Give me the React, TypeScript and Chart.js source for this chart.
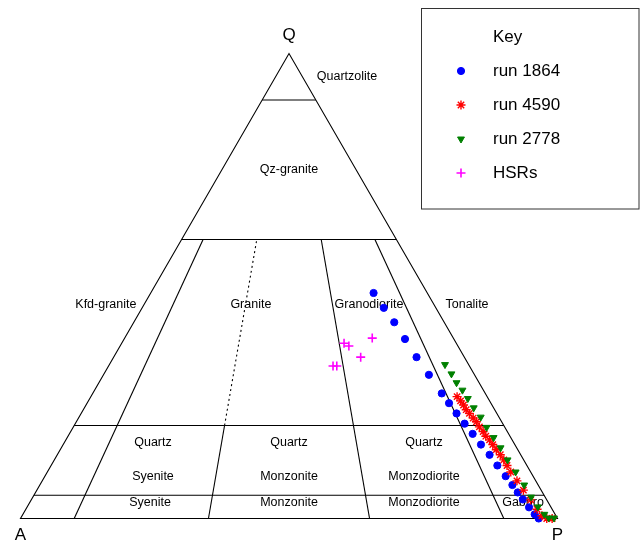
import React, { useEffect, useRef } from 'react';
import { Chart, registerables } from 'chart.js';
import { drawPoint } from 'chart.js/helpers';

Chart.register(...registerables);

// Height of the unit equilateral triangle (A at x=0, P at x=1, Q at the apex)
const H = Math.sqrt(3) / 2;

// Modal compositions in percent: Q (quartz) and P (plagioclase); A = 100 - Q - P
const run1864Q = [48.5, 45.3, 42.2, 38.6, 34.7, 30.9, 26.9, 24.8, 22.6, 20.4, 18.2, 15.9, 13.7, 11.4, 9.1, 7.2, 5.6, 4.1, 2.4, 0.9, 0];
const run1864P = [41.5, 45.0, 48.5, 52.3, 56.4, 60.6, 65.0, 67.4, 69.9, 72.5, 75.1, 77.8, 80.5, 83.1, 85.8, 88.0, 89.8, 91.5, 93.5, 95.3, 96.5];

const run4590Q = [26.2, 25.3, 24.4, 23.4, 22.6, 21.6, 20.8, 19.7, 18.7, 17.7, 16.9, 15.9, 14.8, 13.7, 12.6, 11.4, 10.0, 8.1, 6.1, 4.0, 2.0, 0.6, 0, 0];
const run4590P = [68.2, 69.3, 70.3, 71.3, 72.3, 73.5, 74.5, 75.6, 76.8, 77.8, 78.9, 80.0, 81.2, 82.5, 83.7, 84.9, 86.3, 88.4, 90.6, 93.0, 95.2, 96.8, 98.0, 99.0];

const run2778Q = [33.1, 31.1, 29.2, 27.6, 25.8, 23.8, 21.8, 19.6, 17.4, 15.2, 12.6, 10.0, 7.2, 4.6, 2.5, 0.9, 0.1, 0.1];
const run2778P = [62.5, 64.7, 66.6, 68.5, 70.4, 72.5, 74.8, 77.0, 79.4, 81.8, 84.4, 87.2, 90.2, 92.8, 95.1, 97.1, 98.3, 99.3];

const hsrQ = [32.8, 32.8, 37.7, 37.1, 34.7, 38.8];
const hsrP = [41.8, 42.5, 41.4, 42.6, 46.0, 46.1];

// Field boundaries (Streckeisen QAP)
const quartzLevels = [90, 60, 20, 5];
const plagRatios = [10, 35, 65, 90]; // P/(A+P) in percent, drawn from Q=60 down to Q=0
const dashedRatio = 35; // syeno/monzogranite divide, dotted between Q=20 and Q=60

// Field names, positioned in diagram units (x along A-P, y up towards Q)
const fieldText = ['Quartzolite', 'Qz-granite', 'Kfd-granite', 'Granite', 'Granodiorite', 'Tonalite',
  'Quartz', 'Quartz', 'Quartz', 'Syenite', 'Monzonite', 'Monzodiorite',
  'Syenite', 'Monzonite', 'Monzodiorite', 'Gabbro'];
const fieldX = [0.608, 0.5, 0.159, 0.429, 0.649, 0.8315,
  0.2467, 0.5, 0.7514, 0.2467, 0.5, 0.7514,
  0.2412, 0.5, 0.7514, 0.9358];
const fieldY = [0.824, 0.649, 0.3994, 0.3994, 0.3994, 0.3994,
  0.1406, 0.1406, 0.1406, 0.0773, 0.0773, 0.0773,
  0.0289, 0.0289, 0.0289, 0.0289];

const seriesNames = ['run 1864', 'run 4590', 'run 2778', 'HSRs'];

const FONT = '"Liberation Sans", Arial, Helvetica, sans-serif';

const toXY = (q: number, p: number) => ({ x: (p + q / 2) / 100, y: (q / 100) * H });
const toPoints = (qs: number[], ps: number[]) => qs.map((q, i) => toXY(q, ps[i]));

const diagramPlugin = {
  id: 'qapDiagram',
  beforeDatasetsDraw(chart: any) {
    const { ctx } = chart;
    const xs = chart.scales.x;
    const ys = chart.scales.y;
    const px = (pt: { x: number; y: number }) => [xs.getPixelForValue(pt.x), ys.getPixelForValue(pt.y)];
    const seg = (a: { x: number; y: number }, b: { x: number; y: number }, dash: number[] = []) => {
      const [x1, y1] = px(a);
      const [x2, y2] = px(b);
      ctx.save();
      ctx.setLineDash(dash);
      ctx.beginPath();
      ctx.moveTo(x1, y1);
      ctx.lineTo(x2, y2);
      ctx.stroke();
      ctx.restore();
    };
    ctx.save();
    ctx.strokeStyle = '#000';
    ctx.lineWidth = 1.1;
    // outer triangle
    const A = toXY(0, 0), P = toXY(0, 100), Q = toXY(100, 0);
    ctx.beginPath();
    const [ax, ay] = px(A), [pxx, pyy] = px(P), [qx, qy] = px(Q);
    ctx.moveTo(ax, ay);
    ctx.lineTo(pxx, pyy);
    ctx.lineTo(qx, qy);
    ctx.closePath();
    ctx.stroke();
    // constant-quartz lines
    quartzLevels.forEach((q) => seg(toXY(q, 0), toXY(q, 100 - q)));
    // constant P/(A+P) lines
    plagRatios.forEach((r) => {
      const at = (q: number) => toXY(q, ((100 - q) * r) / 100);
      if (r === dashedRatio) {
        seg(at(0), at(20));
        seg(at(20), at(60), [2, 3]);
      } else {
        seg(at(0), at(60));
      }
    });
    // field names
    ctx.fillStyle = '#000';
    ctx.font = `12.5px ${FONT}`;
    ctx.textAlign = 'center';
    ctx.textBaseline = 'middle';
    fieldText.forEach((t, i) => {
      ctx.fillText(t, xs.getPixelForValue(fieldX[i]), ys.getPixelForValue(fieldY[i]));
    });
    // apex names
    ctx.font = `17px ${FONT}`;
    ctx.fillText('Q', qx, qy - 18.5);
    ctx.fillText('A', ax, ay + 16.5);
    ctx.fillText('P', pxx, pyy + 16.5);
    ctx.restore();
  },
  afterDatasetsDraw(chart: any) {
    const { ctx } = chart;
    ctx.save();
    // key box
    ctx.fillStyle = '#fff';
    ctx.fillRect(421.5, 8.5, 217.5, 200.5);
    ctx.strokeStyle = '#333';
    ctx.lineWidth = 1;
    ctx.strokeRect(421.5, 8.5, 217.5, 200.5);
    ctx.fillStyle = '#000';
    ctx.font = `17px ${FONT}`;
    ctx.textAlign = 'left';
    ctx.textBaseline = 'middle';
    ctx.fillText('Key', 493, 37.5);
    const sets = chart.data.datasets;
    seriesNames.forEach((name, i) => {
      const ds = sets[i];
      const y = 71 + i * 34;
      ctx.save();
      ctx.fillStyle = ds.backgroundColor;
      ctx.strokeStyle = ds.borderColor;
      ctx.lineWidth = ds.borderWidth;
      drawPoint(ctx, {
        pointStyle: ds.pointStyle,
        radius: ds.pointRadius,
        rotation: ds.rotation || 0,
        borderWidth: ds.borderWidth,
      }, 461, y);
      ctx.restore();
      ctx.fillStyle = '#000';
      ctx.fillText(name, 493, y);
    });
    ctx.restore();
  },
};

export default function App() {
  const ref = useRef<HTMLCanvasElement | null>(null);

  useEffect(() => {
    if (!ref.current) return;
    const chart = new Chart(ref.current, {
      type: 'scatter',
      data: {
        datasets: [
          {
            label: seriesNames[0],
            data: toPoints(run1864Q, run1864P),
            pointStyle: 'circle',
            pointRadius: 3.6,
            backgroundColor: '#0000ff',
            borderColor: '#0000ff',
            borderWidth: 1,
            order: 4,
            clip: false,
          },
          {
            label: seriesNames[1],
            data: toPoints(run4590Q, run4590P),
            pointStyle: 'star',
            pointRadius: 4.5,
            backgroundColor: '#ff0000',
            borderColor: '#ff0000',
            borderWidth: 1.4,
            order: 3,
            clip: false,
          },
          {
            label: seriesNames[2],
            data: toPoints(run2778Q, run2778P),
            pointStyle: 'triangle',
            rotation: 180,
            pointRadius: 4,
            backgroundColor: '#008000',
            borderColor: '#008000',
            borderWidth: 1,
            order: 2,
            clip: false,
          },
          {
            label: seriesNames[3],
            data: toPoints(hsrQ, hsrP),
            pointStyle: 'cross',
            pointRadius: 4.5,
            backgroundColor: '#ff00ff',
            borderColor: '#ff00ff',
            borderWidth: 1.6,
            order: 1,
            clip: false,
          },
        ] as any,
      },
      options: {
        animation: false,
        responsive: false,
        events: [],
        layout: { padding: { left: 20.5, right: 83.5, top: 53.5, bottom: 23.5 } },
        scales: {
          x: { type: 'linear', min: 0, max: 1, display: false },
          y: { type: 'linear', min: 0, max: H, display: false },
        },
        plugins: {
          legend: { display: false },
          tooltip: { enabled: false },
        },
      },
      plugins: [diagramPlugin],
    });
    return () => chart.destroy();
  }, []);

  return (
    <div style={{ position: 'fixed', left: 0, top: 0, width: 641, height: 542, background: '#fff' }}>
      <canvas ref={ref} width={641} height={542} style={{ display: 'block' }} />
    </div>
  );
}
